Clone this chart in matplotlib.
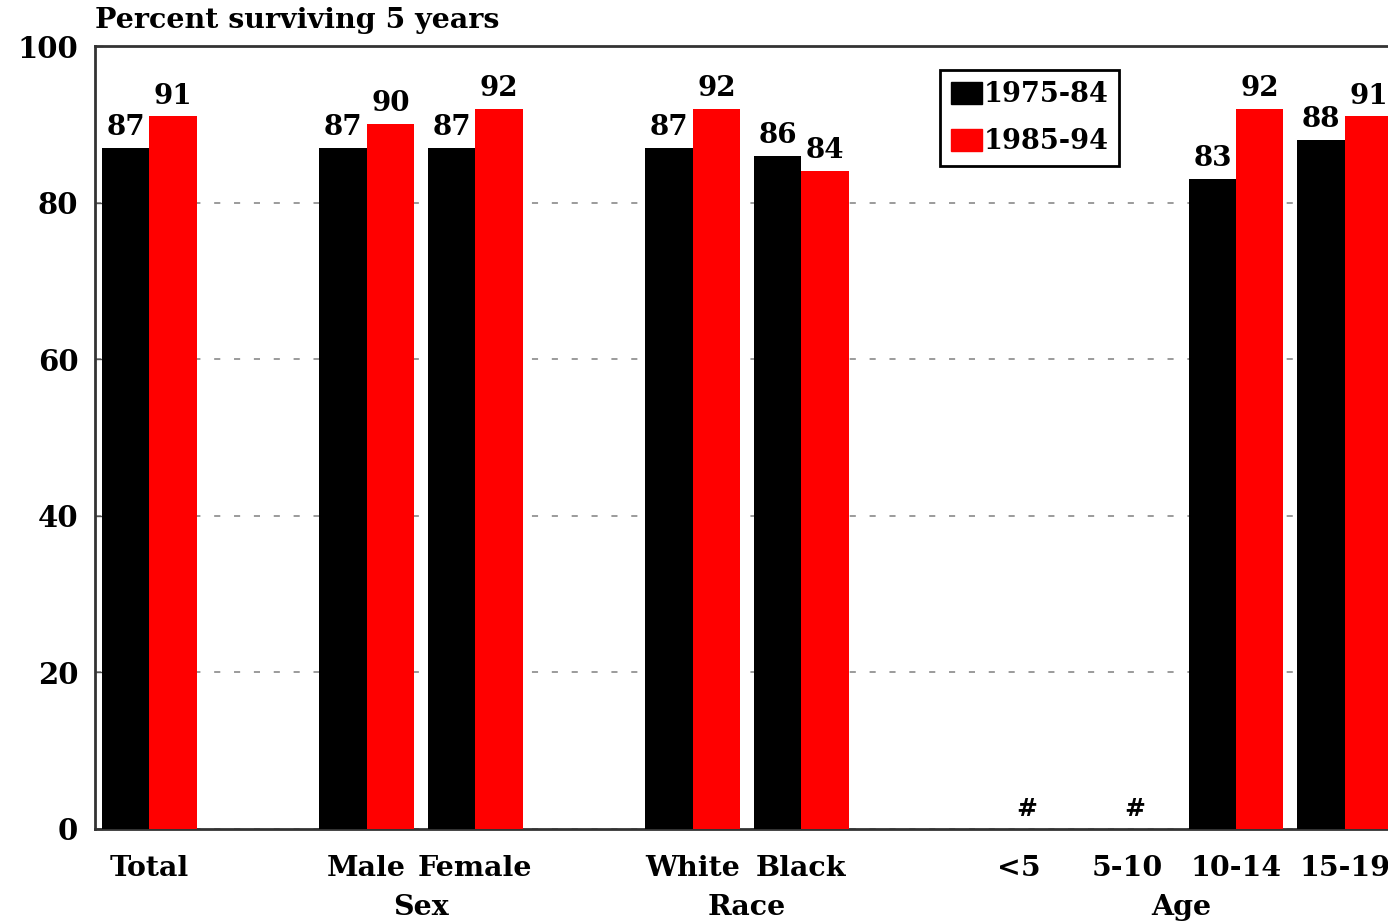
import numpy as np
import matplotlib
matplotlib.use("Agg")
import matplotlib.pyplot as plt
from matplotlib.patches import Patch

plt.rcParams['font.family'] = ['DejaVu Serif']
plt.rcParams['font.weight'] = 'bold'

# Data
categories = ["Total", "Male", "Female", "White", "Black", "<5", "5-10", "10-14", "15-19"]
positions = np.array([0, 2, 3, 5, 6, 8, 9, 10, 11])
early = [87, 87, 87, 87, 86, np.nan, np.nan, 83, 88]   # 1975-84
late = [91, 90, 92, 92, 84, np.nan, np.nan, 92, 91]    # 1985-94
groups = {"Sex": ["Male", "Female"], "Race": ["White", "Black"], "Age": ["<5", "5-10", "10-14", "15-19"]}
series_names = ["1975-84", "1985-94"]
colors = ["#000000", "#ff0000"]

W, H = 1388, 924
fig = plt.figure(figsize=(W / 100, H / 100), dpi=100)
ax = fig.add_axes([95 / W, 1 - 829 / H, (W - 95) / W, 783 / H])

bw = 0.435
ax.bar(positions - bw / 2, early, width=bw, color=colors[0], zorder=3)
ax.bar(positions + bw / 2, late, width=bw, color=colors[1], zorder=3)

# value labels ("#" where no data)
for x, a, b in zip(positions, early, late):
    if np.isnan(a):
        ax.text(x + 0.07, 1, "#", ha="center", va="bottom", fontsize=18, fontweight="bold")
        continue
    ax.annotate(f"{a:.0f}", (x - bw / 2, a), xytext=(0, 5), textcoords="offset points",
                ha="center", va="bottom", fontsize=20, fontweight="bold")
    ax.annotate(f"{b:.0f}", (x + bw / 2, b), xytext=(0, 5), textcoords="offset points",
                ha="center", va="bottom", fontsize=20, fontweight="bold")

ax.set_ylim(0, 100)
ax.set_xlim(-0.5, (W - 149) / 108.7)
ax.set_yticks([0, 20, 40, 60, 80, 100])
ax.tick_params(axis="y", direction="in", length=6, width=1, pad=12, labelsize=21, color="#555555")
ax.set_xticks(positions)
ax.set_xticklabels(categories, fontsize=20.5, fontweight="bold")
ax.tick_params(axis="x", length=0, pad=19)
for lab in ax.get_yticklabels():
    lab.set_fontweight("bold")

ax.yaxis.grid(True, color="#808080", linestyle=(0, (4, 9)), linewidth=1.1, zorder=0)
ax.set_axisbelow(True)

for s in ["left", "bottom", "top"]:
    ax.spines[s].set_linewidth(2)
    ax.spines[s].set_color("#333333")
ax.spines["right"].set_visible(False)

# group labels
cat_pos = dict(zip(categories, positions))
for g, members in groups.items():
    xc = np.mean([cat_pos[m] for m in members])
    ax.annotate(g, (xc, 0), xycoords=("data", "axes fraction"), xytext=(0, -47),
                textcoords="offset points", ha="center", va="top", fontsize=20.5, fontweight="bold")

fig.text(95 / W, 1 - 20 / H, "Percent surviving 5 years", ha="left", va="center",
         fontsize=20.5, fontweight="bold")

handles = [Patch(facecolor=c, edgecolor=c) for c in colors]
leg = ax.legend(handles, series_names, loc="upper left", bbox_to_anchor=(0.6535, 0.969),
                borderaxespad=0, fancybox=False, framealpha=1, edgecolor="black",
                prop={"size": 19.5, "weight": "bold"}, handlelength=1.15, handleheight=0.85,
                handletextpad=0.05, labelspacing=0.75, borderpad=0.4)
leg.get_frame().set_linewidth(2)

fig.savefig("out.png", dpi=100)
